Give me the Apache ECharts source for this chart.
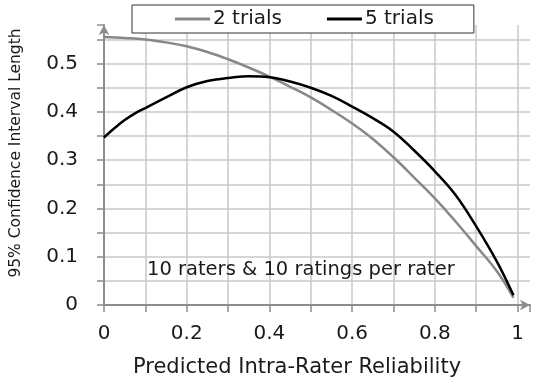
<!DOCTYPE html>
<html>
<head>
<meta charset="utf-8">
<script src="https://cdn.jsdelivr.net/npm/echarts@6/dist/echarts.min.js"></script>
<style>
  html, body { margin: 0; padding: 0; background: #fff; }
  #chart { width: 533px; height: 385px; }
</style>
</head>
<body>
<div id="chart"></div>
<script>
// Reliability values (x) and CI length for each design
const xTwo = [0, 0.05, 0.1, 0.15, 0.2, 0.25, 0.3, 0.35, 0.4, 0.45, 0.5, 0.55, 0.6, 0.65, 0.7, 0.75, 0.8, 0.85, 0.9, 0.95, 0.99];
const twoTrials = [0.555, 0.553, 0.550, 0.544, 0.536, 0.524, 0.509, 0.492, 0.473, 0.452, 0.430, 0.404, 0.376, 0.344, 0.306, 0.264, 0.221, 0.173, 0.122, 0.070, 0.015];

const xFive = [0, 0.025, 0.05, 0.075, 0.1, 0.15, 0.2, 0.25, 0.3, 0.35, 0.4, 0.45, 0.5, 0.55, 0.6, 0.65, 0.7, 0.75, 0.8, 0.85, 0.9, 0.95, 0.99];
const fiveTrials = [0.347, 0.366, 0.383, 0.397, 0.408, 0.430, 0.451, 0.464, 0.470, 0.474, 0.472, 0.463, 0.450, 0.433, 0.411, 0.387, 0.359, 0.320, 0.277, 0.228, 0.163, 0.090, 0.020];

// Axis ranges, tick steps (grid) and label steps
const xMin = 0, xMax = 1.03, xTickStep = 0.1, xLabelStep = 0.2;
const yMin = 0, yMax = 0.58, yTickStep = 0.05, yLabelStep = 0.1;

const seriesNames = ['2 trials', '5 trials'];
const note = '10 raters & 10 ratings per rater';

const FONT = 'DejaVu Sans';
const axisGray = '#8c8c8c';
const gridGray = '#c8c8c8';
const textColor = '#1a1a1a';

const pair = (xs, ys) => xs.map((x, i) => [x, ys[i]]);
// one colour per grid line; the extra line at the axis end stays hidden
const gridColors = (lo, hi, step) => {
  const n = Math.floor((hi - lo) / step + 1e-9) + 1;
  return Array.from({ length: n + 1 }, (_, i) => i < n ? gridGray : 'rgba(0,0,0,0)');
};

const tickAxis = (min, max, step) => ({
  type: 'value', min, max, interval: step,
  axisLine: { show: true, lineStyle: { color: axisGray, width: 2 }, symbol: ['none', 'arrow'], symbolSize: [8, 10] },
  axisTick: { show: true, length: 7, lineStyle: { color: axisGray, width: 1.5 } },
  axisLabel: { show: false },
  splitLine: { show: true, lineStyle: { color: gridColors(min, max, step), width: 1.5 } }
});
const labelAxis = (min, max, step, position, margin) => ({
  type: 'value', min, max, interval: step, position,
  axisLine: { show: false }, axisTick: { show: false }, splitLine: { show: false },
  axisLabel: { show: true, margin, fontSize: 20, fontFamily: FONT, color: textColor, showMaxLabel: false }
});

const chart = echarts.init(document.getElementById('chart'));
chart.setOption({
  animation: false,
  textStyle: { fontFamily: FONT, color: textColor },
  grid: { left: 104, right: 3, top: 25, bottom: 80, outerBoundsMode: 'none' },
  legend: {
    data: seriesNames,
    left: 132, top: 5,
    padding: [4, 40, 4, 43],
    itemGap: 45,
    itemWidth: 35, itemHeight: 3,
    icon: 'rect',
    backgroundColor: '#fff',
    borderColor: '#333',
    borderWidth: 1,
    textStyle: { fontFamily: FONT, fontSize: 20, color: textColor, padding: [0, 0, 0, -2] }
  },
  xAxis: [
    Object.assign(tickAxis(xMin, xMax, xTickStep), {
      position: 'bottom',
      name: 'Predicted Intra-Rater Reliability',
      nameLocation: 'middle',
      nameGap: 52,
      nameTextStyle: { fontFamily: FONT, fontSize: 21, color: textColor, padding: [0, 40, 0, 0] }
    }),
    labelAxis(xMin, xMax, xLabelStep, 'bottom', 19)
  ],
  yAxis: [
    Object.assign(tickAxis(yMin, yMax, yTickStep), {
      position: 'left',
      name: '95% Confidence Interval Length',
      nameLocation: 'middle',
      nameGap: 80,
      nameTextStyle: { fontFamily: FONT, fontSize: 15.5, color: textColor, padding: [0, 0, 0, 24] }
    }),
    labelAxis(yMin, yMax, yLabelStep, 'left', 26)
  ],
  graphic: [{
    type: 'text',
    left: 147, top: 260,
    style: { text: note, font: '19.5px "DejaVu Sans"', fill: textColor },
    z: 10
  }],
  series: [
    {
      name: seriesNames[0], type: 'line', data: pair(xTwo, twoTrials),
      smooth: 0.4, showSymbol: false, z: 3,
      lineStyle: { color: '#888888', width: 2.5 }, itemStyle: { color: '#888888' }
    },
    {
      name: seriesNames[1], type: 'line', data: pair(xFive, fiveTrials),
      smooth: 0.4, showSymbol: false, z: 4,
      lineStyle: { color: '#000000', width: 2.5 }, itemStyle: { color: '#000000' }
    }
  ]
});
</script>
</body>
</html>
